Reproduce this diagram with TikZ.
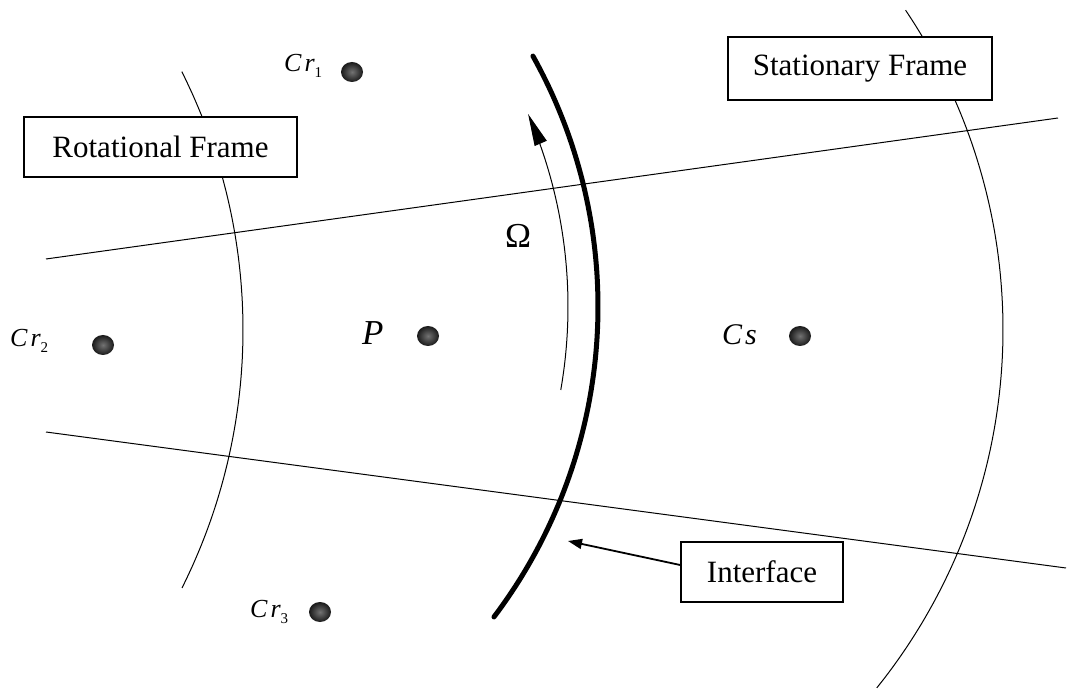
\documentclass[tikz,border=0pt]{standalone}
\usepackage{fontspec}
\setmainfont{Liberation Serif}
\usetikzlibrary{arrows.meta,shapes.geometric}
\begin{document}
\begin{tikzpicture}[x=1pt,y=-1pt,
  thinline/.style={line width=1pt},
  framebox/.style={draw,line width=1.6pt,fill=white,inner sep=0pt,font=\fontsize{31}{37}\selectfont},
  dot/.style={ellipse,minimum width=22pt,minimum height=20pt,inner sep=0pt,inner color=black!55,outer color=black!90},
  lbl/.style={anchor=base west,inner sep=0pt}]
\useasboundingbox (0,0) rectangle (1068,692);
% straight lines
\coordinate (u1) at (46,259); \coordinate (u2) at (1058,118);
\coordinate (l1) at (46,432); \coordinate (l2) at (1066,568);
\draw[thinline] (u1) -- (u2);
\draw[thinline] (l1) -- (l2);
% arcs
\draw[thinline] plot[domain=-26.65:26.6,samples=80,smooth] ({-333+576*cos(\x)},{330+576*sin(\x)});
\draw[thinline] plot[domain=-33.93:38.79,samples=80,smooth] ({431+572*cos(\x)},{329.5+572*sin(\x)});
\draw[line width=5pt,line cap=round] plot[domain=-29.11:37.06,samples=80,smooth] ({83+515*cos(\x)},{306.6+515*sin(\x)});
\draw[thinline,-{Triangle[length=32pt,width=13pt]}] plot[domain=9.9:-23.4,samples=60,smooth] ({83+485*cos(\x)},{306.6+485*sin(\x)});
% boxes
\node[framebox,minimum width=273pt,minimum height=60pt] (rot) at (160.5,147) {Rotational Frame};
\node[framebox,minimum width=264pt,minimum height=63pt] (sta) at (860,68.5) {Stationary Frame};
\node[framebox,minimum width=162pt,minimum height=60pt] (intf) at (762,572) {Interface};
\coordinate (ia) at (568,541);
\draw[line width=1.8pt,-{Triangle[length=14pt,width=10pt]}] ([yshift=7pt]intf.west) -- (ia);
% dots
\node[dot] (cr1) at (352,72) {};
\node[dot] (cr2) at (103,345) {};
\node[dot] (cr3) at (320,612) {};
\node[dot] (p) at (428,336) {};
\node[dot] (cs) at (800,336) {};
% labels
\node[lbl] (lcr1) at (284,72) {{\fontsize{26}{30}\selectfont\itshape C\kern3pt r}\raisebox{-6pt}{\fontsize{15}{16}\selectfont 1}};
\node[lbl] (lcr2) at (10,347) {{\fontsize{26}{30}\selectfont\itshape C\kern3pt r}\raisebox{-6pt}{\fontsize{15}{16}\selectfont 2}};
\node[lbl] (lcr3) at (250,617) {{\fontsize{26}{30}\selectfont\itshape C\kern3pt r}\raisebox{-6pt}{\fontsize{15}{16}\selectfont 3}};
\node[lbl] (lp) at (362,345) {\fontsize{35}{40}\selectfont\itshape P};
\node[lbl] (lcs) at (722,345) {\fontsize{30}{36}\selectfont\itshape C\kern3pt s};
\node[lbl] (lom) at (505,248) {\fontsize{35}{40}\selectfont Ω};
\end{tikzpicture}
\end{document}
